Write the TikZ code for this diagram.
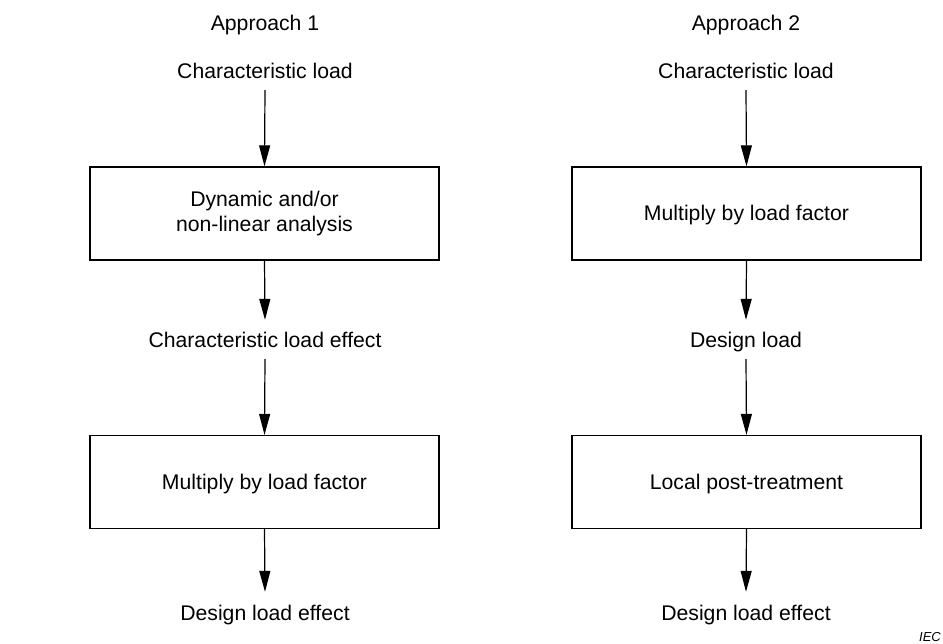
\documentclass[tikz,border=0pt]{standalone}
\usepackage{fontspec}
\setmainfont{Liberation Sans}
\usetikzlibrary{arrows.meta,positioning}
\begin{document}
\begin{tikzpicture}[x=1pt,y=-1pt,
  every node/.style={font=\fontsize{21.2}{25}\selectfont},
  label/.style={inner xsep=0pt, inner ysep=0pt, text height=15pt, text depth=5pt},
  stepbox/.style={draw, line width=1.3pt, minimum width=349pt, minimum height=93pt,
    align=center, inner sep=0pt},
  oneline/.style={stepbox, text height=15pt, text depth=0pt},
  flow/.style={draw, line width=1.2pt, -{Triangle[length=21pt,width=11pt]}}]
\useasboundingbox (0,0) rectangle (943,644);

% Approach 1
\node[label] (t1)  at (265,26)  {Approach 1};
\node[label] (a1)  at (265,74)  {Characteristic load};
\node[stepbox] (b11) at (264.5,213.5) {Dynamic and/or\\non-linear analysis};
\node[label] (m1)  at (265,343) {Characteristic load effect};
\node[oneline] (b12) at (264.5,482) {Multiply by load factor};
\node[label] (e1)  at (265,615) {Design load effect};

\draw[flow] ([yshift=-6pt]a1.south) -- (b11.north);
\draw[flow] (b11.south) -- ([yshift=13pt]m1.north);
\draw[flow] ([yshift=-6pt]m1.south) -- (b12.north);
\draw[flow] (b12.south) -- ([yshift=13pt]e1.north);

% Approach 2
\node[label] (t2)  at (746,26)  {Approach 2};
\node[label] (a2)  at (746,74)  {Characteristic load};
\node[oneline] (b21) at (746.5,213.5) {Multiply by load factor};
\node[label] (m2)  at (746,343) {Design load};
\node[oneline] (b22) at (746.5,482) {Local post-treatment};
\node[label] (e2)  at (746,615) {Design load effect};

\draw[flow] ([yshift=-6pt]a2.south) -- (b21.north);
\draw[flow] (b21.south) -- ([yshift=13pt]m2.north);
\draw[flow] ([yshift=-6pt]m2.south) -- (b22.north);
\draw[flow] (b22.south) -- ([yshift=13pt]e2.north);

\node[font=\fontsize{13}{15}\selectfont\itshape, anchor=base east, inner sep=0pt] (iec) at (941,641) {IEC};
\end{tikzpicture}
\end{document}
